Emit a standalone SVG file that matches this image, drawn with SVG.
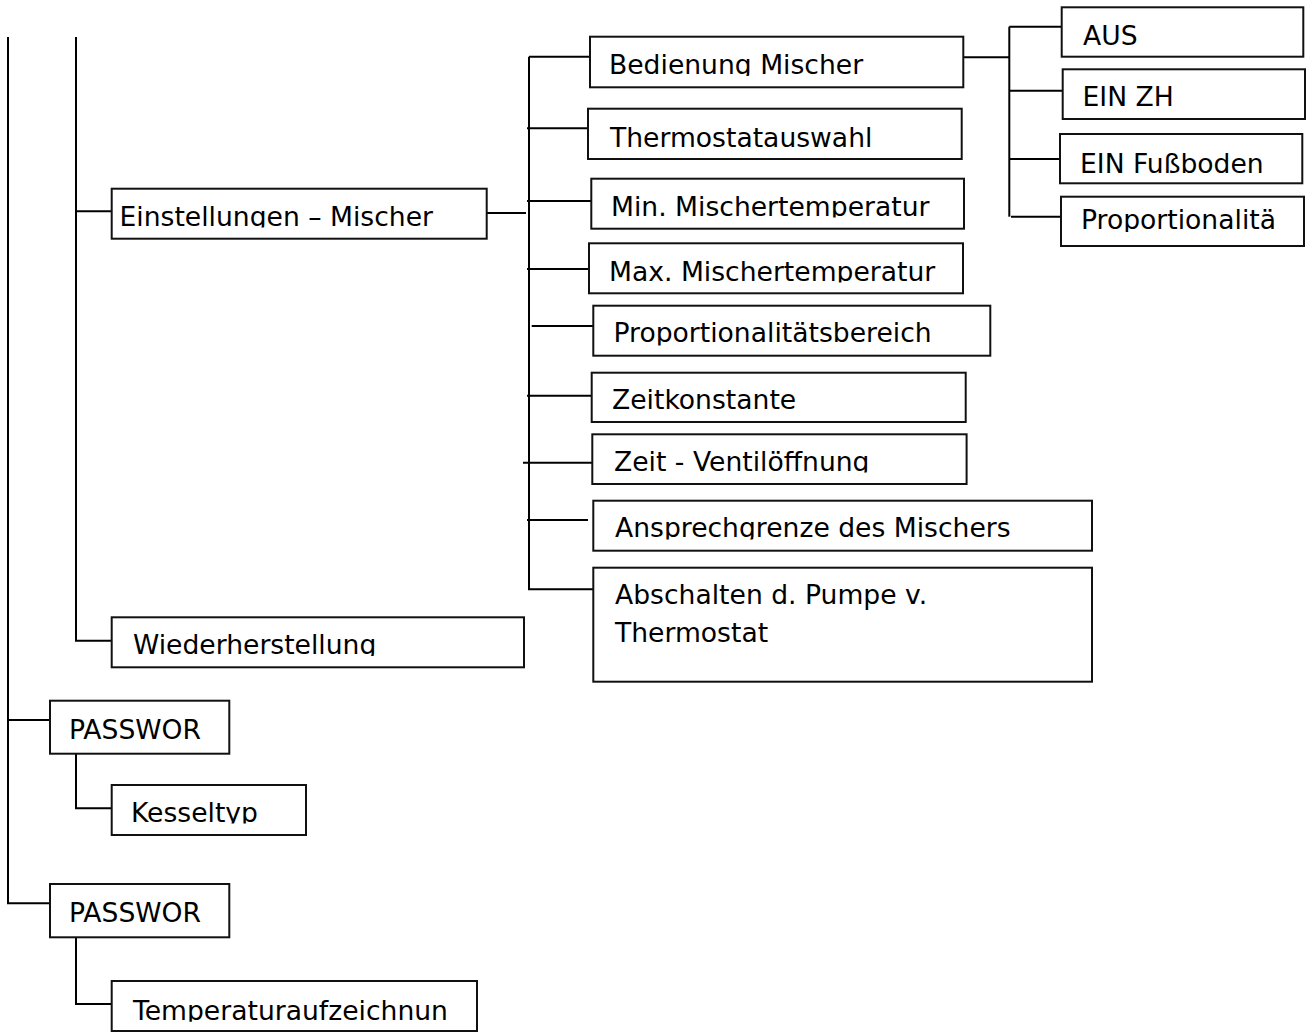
<svg xmlns="http://www.w3.org/2000/svg" width="1311" height="1034" viewBox="0 0 1311 1034">
<style>
.b{fill:#fff;stroke:#111;stroke-width:2}
.c{fill:none;stroke:#000;stroke-width:2}
.t{font-family:"DejaVu Sans",Verdana,sans-serif;font-size:26.6px;fill:#000}
</style>
<defs>
<clipPath id="k1"><rect x="0" y="0" width="1311" height="227.5"/></clipPath>
<clipPath id="k2"><rect x="0" y="0" width="1311" height="656"/></clipPath>
<clipPath id="k3"><rect x="0" y="0" width="1311" height="823.5"/></clipPath>
<clipPath id="k4"><rect x="0" y="0" width="1311" height="1021.7"/></clipPath>
<clipPath id="k5"><rect x="0" y="0" width="1311" height="76"/></clipPath>
<clipPath id="k6"><rect x="0" y="0" width="1311" height="217.5"/></clipPath>
<clipPath id="k7"><rect x="0" y="0" width="1311" height="282.5"/></clipPath>
<clipPath id="k8"><rect x="0" y="0" width="1311" height="345.5"/></clipPath>
<clipPath id="k9"><rect x="0" y="0" width="1311" height="472.5"/></clipPath>
<clipPath id="k10"><rect x="0" y="0" width="1311" height="539.5"/></clipPath>
<clipPath id="k11"><rect x="0" y="0" width="1311" height="232"/></clipPath>
</defs>
<g id="connectors">
<path class="c" d="M8 37V903.3H50"/>
<path class="c" d="M8 720H50"/>
<path class="c" d="M76 37V640.7H111.7"/>
<path class="c" d="M76 211.3H111.7"/>
<path class="c" d="M76 753.7V808.3H111.7"/>
<path class="c" d="M76 937.3V1004H111.7"/>
<path class="c" d="M484 213H526"/>
<path class="c" d="M529 56.7V589.3H593"/>
<path class="c" d="M529 56.7H590"/>
<path class="c" d="M527 128.3H588"/>
<path class="c" d="M527 201H591"/>
<path class="c" d="M527 269H589"/>
<path class="c" d="M531.7 326H593"/>
<path class="c" d="M527 395.7H591.7"/>
<path class="c" d="M523 462.7H592"/>
<path class="c" d="M527 520H588"/>
<path class="c" d="M963 57.3H1009.3"/>
<path class="c" d="M1009.3 26.7V216.7"/>
<path class="c" d="M1009.3 26.7H1061"/>
<path class="c" d="M1009.3 90.7H1062"/>
<path class="c" d="M1009.3 159H1060"/>
<path class="c" d="M1011 216.7H1061"/>
</g>
<g id="n-einstellungen"><rect class="b" x="111.7" y="188.7" width="375" height="50"/><text class="t" x="119.5" y="226" clip-path="url(#k1)">Einstellungen – Mischer</text></g>
<g id="n-wiederherstellung"><rect class="b" x="111.7" y="617.3" width="412.3" height="50"/><text class="t" x="133" y="654" clip-path="url(#k2)">Wiederherstellung</text></g>
<g id="n-passwor1"><rect class="b" x="50" y="700.7" width="179.3" height="53"/><text class="t" x="69" y="738.7">PASSWOR</text></g>
<g id="n-kesseltyp"><rect class="b" x="111.7" y="785" width="194.3" height="50"/><text class="t" x="131" y="821.7" clip-path="url(#k3)">Kesseltyp</text></g>
<g id="n-passwor2"><rect class="b" x="50" y="884" width="179.3" height="53.3"/><text class="t" x="69" y="921.7">PASSWOR</text></g>
<g id="n-temperatur"><rect class="b" x="111.7" y="981" width="365.3" height="50"/><text class="t" x="133" y="1020" clip-path="url(#k4)">Temperaturaufzeichnun</text></g>
<g id="n-bedienung"><rect class="b" x="590" y="36.7" width="373.3" height="50.6"/><text class="t" x="609" y="74" clip-path="url(#k5)">Bedienung Mischer</text></g>
<g id="n-thermostat"><rect class="b" x="588" y="108.7" width="373.7" height="50.3"/><text class="t" x="610" y="146.7">Thermostatauswahl</text></g>
<g id="n-min"><rect class="b" x="591.3" y="178.7" width="372.7" height="50"/><text class="t" x="611" y="216" clip-path="url(#k6)">Min. Mischertemperatur</text></g>
<g id="n-max"><rect class="b" x="589" y="243.3" width="374" height="50"/><text class="t" x="609" y="281" clip-path="url(#k7)">Max. Mischertemperatur</text></g>
<g id="n-prop"><rect class="b" x="593.3" y="305.7" width="397" height="50"/><text class="t" x="613.5" y="341.7" clip-path="url(#k8)">Proportionalitätsbereich</text></g>
<g id="n-zeitkonstante"><rect class="b" x="591.7" y="372.7" width="374" height="49.3"/><text class="t" x="612" y="409.3">Zeitkonstante</text></g>
<g id="n-ventil"><rect class="b" x="592.3" y="434.3" width="374.3" height="49.7"/><text class="t" x="614" y="470.7" clip-path="url(#k9)">Zeit - Ventilöffnung</text></g>
<g id="n-ansprech"><rect class="b" x="593.3" y="500.7" width="498.7" height="50"/><text class="t" x="615" y="537.3" clip-path="url(#k10)">Ansprechgrenze des Mischers</text></g>
<g id="n-abschalten"><rect class="b" x="593.3" y="567.7" width="498.7" height="114"/><text class="t" x="615" y="604.3">Abschalten d. Pumpe v.</text><text class="t" x="615" y="641.7">Thermostat</text></g>
<g id="n-aus"><rect class="b" x="1061.7" y="7.3" width="241.6" height="49.4"/><text class="t" x="1083" y="45">AUS</text></g>
<g id="n-einzh"><rect class="b" x="1062.7" y="69.3" width="242.3" height="49.7"/><text class="t" x="1082.5" y="106">EIN ZH</text></g>
<g id="n-fussboden"><rect class="b" x="1060" y="134" width="242.3" height="49.3"/><text class="t" x="1080" y="172.7">EIN Fußboden</text></g>
<g id="n-proportionalita"><rect class="b" x="1061" y="196.7" width="243" height="49.3"/><text class="t" x="1081" y="229.3" clip-path="url(#k11)">Proportionalitä</text></g>
</svg>
